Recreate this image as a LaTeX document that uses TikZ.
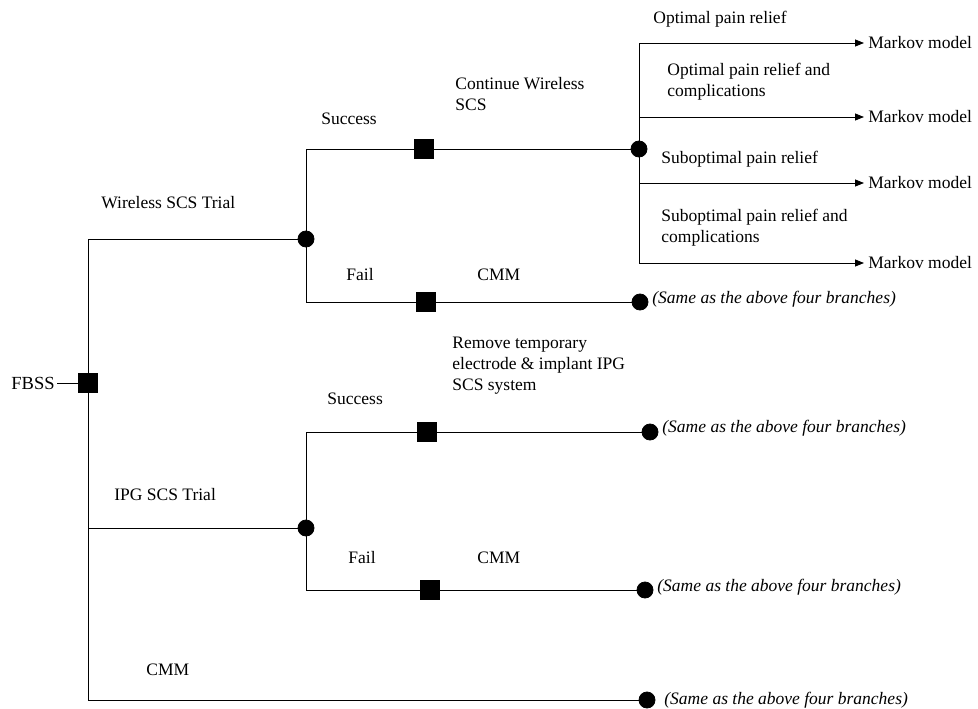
\documentclass[tikz,border=0pt]{standalone}
\usepackage{fontspec}
\setmainfont{Liberation Serif}
\usepackage{tikz}
\usetikzlibrary{positioning}
\usetikzlibrary{shapes,arrows.meta,calc}

\begin{document}
\begin{tikzpicture}[x=1pt, y=-1pt, line width=0.8pt,
  dec/.style={draw, fill=black, rectangle, minimum size=19pt, inner sep=0pt},
  chance/.style={draw, fill=black, circle, minimum size=16pt, inner sep=0pt},
  lbl/.style={anchor=west, inner sep=2pt, align=left, font=\fontsize{17.5}{21}\selectfont},
  same/.style={lbl, font=\fontsize{17.5}{21}\selectfont\itshape},
  tip/.style={-{Triangle[length=9pt,width=7pt]}}]

\useasboundingbox (0,0) rectangle (978,709);

% decision and chance nodes
\node[anchor=east, inner sep=2pt, font=\fontsize{18.5}{21}\selectfont] (fbss) at (57,383) {FBSS};
\node[dec] (d0) at (88,383) {};

\node[chance] (c1) at (306,239) {};
\node[dec] (d11) at (424,149) {};
\node[chance] (c11) at (639,149) {};
\node[dec] (d12) at (426,302) {};
\node[chance] (e12) at (640,302) {};

\node[chance] (c2) at (306,528) {};
\node[dec] (d21) at (427,432) {};
\node[chance] (e21) at (650,432) {};
\node[dec] (d22) at (430,590) {};
\node[chance] (e22) at (645,590) {};

\node[chance] (e3) at (647,700) {};

% end points
\node[lbl, inner sep=4pt] (m1) at (864,43) {Markov model};
\node[lbl, inner sep=4pt] (m2) at (864,117) {Markov model};
\node[lbl, inner sep=4pt] (m3) at (864,183) {Markov model};
\node[lbl, inner sep=4pt] (m4) at (864,263) {Markov model};

\node[same] (s12) at (650,299) {(Same as the above four branches)};
\node[same] (s21) at (660,428) {(Same as the above four branches)};
\node[same] (s22) at (655,587) {(Same as the above four branches)};
\node[same] (s3) at (662,700) {(Same as the above four branches)};

% connectors
\draw (fbss) -- (d0);
\draw (d0) |- (c1);
\draw (d0) |- (c2);
\draw (d0) |- (e3);

\draw (c1) |- (d11);
\draw (d11) -- (c11);
\draw (c1) |- (d12);
\draw (d12) -- (e12);

\draw[tip] (c11) |- (m1.west);
\draw[tip] (c11) |- (m2.west);
\draw[tip] (c11) |- (m3.west);
\draw[tip] (c11) |- (m4.west);

\draw (c2) |- (d21);
\draw (d21) -- (e21);
\draw (c2) |- (d22);
\draw (d22) -- (e22);

% labels
\node[lbl] (lwst) at (99,203) {Wireless SCS Trial};
\node[lbl] (lsucc1) at (319,119) {Success};
\node[lbl] (lcont) at (453,94) {Continue Wireless\\SCS};
\node[lbl] (lfail1) at (344,275) {Fail};
\node[lbl] (lcmm1) at (475,275) {CMM};

\node[lbl] (lopt) at (651,19) {Optimal pain relief};
\node[lbl] (loptc) at (665,82) {Optimal pain relief and\\complications};
\node[lbl] (lsub) at (659,159) {Suboptimal pain relief};
\node[lbl] (lsubc) at (659,228) {Suboptimal pain relief and\\complications};

\node[lbl] (lipg) at (112,495) {IPG SCS Trial};
\node[lbl] (lsucc2) at (325,399) {Success};
\node[lbl] (lrem) at (450,366) {Remove temporary\\electrode \& implant IPG\\SCS system};
\node[lbl] (lfail2) at (346,558) {Fail};
\node[lbl] (lcmm2) at (475,558) {CMM};

\node[lbl] (lcmm3) at (144,670) {CMM};

\end{tikzpicture}
\end{document}
